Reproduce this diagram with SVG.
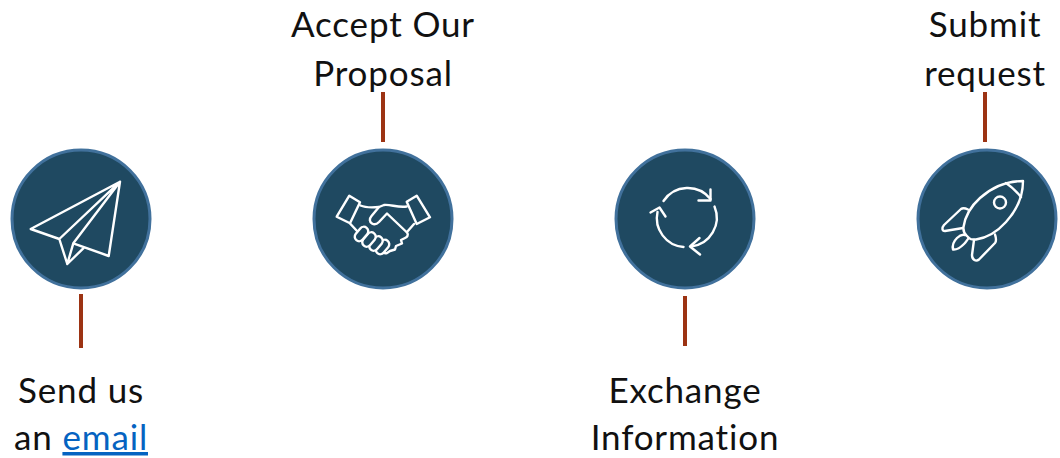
<svg xmlns="http://www.w3.org/2000/svg" width="1060" height="458" viewBox="0 0 1060 458">
<style>
.c{fill:#1f4961;stroke:#41719c;stroke-width:3}
.i{fill:none;stroke:#fff;stroke-width:2.4;stroke-linejoin:round;stroke-linecap:round}
.f{fill:#1f4961}
.t{font-family:"Lato","Open Sans",sans-serif;font-size:35px;letter-spacing:.85px;fill:#111;text-anchor:middle;font-variant-ligatures:none}
.l{fill:#0563c1;text-decoration:underline}
.k{stroke:#9c3313;stroke-width:4;fill:none}
</style>
<rect width="1060" height="458" fill="#fff"/>
<g id="connectors">
<line class="k" x1="81" y1="294" x2="81" y2="348"/>
<line class="k" x1="383" y1="92" x2="383" y2="142"/>
<line class="k" x1="685" y1="296" x2="685" y2="346"/>
<line class="k" x1="985" y1="92" x2="985" y2="142"/>
</g>
<g id="node-email">
<circle class="c" cx="81" cy="219" r="69"/>
<path class="i" d="M120 181.700L30.700 229L59.300 239L67.300 264L83.300 248.300M120 181.700L108.700 256L73.300 243.300L67.300 264M120 181.700L59.300 239M120 181.700L73.300 243.300"/>
<text class="t" x="81" y="403">Send us</text>
<text class="t" x="81" y="450">an <tspan class="l">email</tspan></text>
</g>
<g id="node-proposal">
<circle class="c" cx="383" cy="219" r="69"/>
<g class="i">
<path d="M349.300 195.700L360 202.300L350 223.300L336.700 216.700Z"/>
<path d="M416.700 195.700L406.700 201.700L416.700 224L430 217.300Z"/>
<path d="M360.500 205.500C366 208 374 207.500 379 207L384 205C390 204 398 208 406.700 206.500"/>
<path d="M379 207L371.500 216C369 219 369.500 222 372 223.500C374.500 225 377 224 379 222L387 213.500L407 232.500C409 235 407 237 405 238L401 240L402 243.500L396 246L395 249.500L390 251L387 253C385 253.500 383 253 381 251.500"/>
<path d="M350.500 224L357 231"/>
<path d="M414 224L407 232"/>
<rect class="f" x="-8" y="-4.500" width="16" height="9" rx="4.500" transform="translate(382.500 247) rotate(-50)"/>
<rect class="f" x="-8" y="-4.500" width="16" height="9" rx="4.500" transform="translate(376 243.500) rotate(-50)"/>
<rect class="f" x="-8" y="-4.500" width="16" height="9" rx="4.500" transform="translate(369 239.500) rotate(-50)"/>
<rect class="f" x="-8" y="-4.500" width="16" height="9" rx="4.500" transform="translate(361.500 234) rotate(-50)"/>
</g>
</g>
<g id="node-exchange">
<circle class="c" cx="685" cy="219" r="69"/>
<g class="i">
<path d="M663.500 201A29 29 0 0 1 710.500 199"/>
<path d="M710.500 189.500L710.500 200.500L698.500 200.500"/>
<path d="M714.500 206.500A29 29 0 0 1 691 246.500"/>
<path d="M700 254.500L690 246.500L699.500 238"/>
<path d="M683.500 247A29 29 0 0 1 657.500 212"/>
<path d="M650.500 212.500L659.500 207.500L665.500 216.500"/>
</g>
<text class="t" x="685" y="403">Exchange</text>
<text class="t" x="685" y="450">Information</text>
</g>
<g id="node-request">
<circle class="c" cx="987" cy="219" r="69"/>
<g class="i">
<path d="M1023 181C1007 181 992 187 980 198C970 207 965 217 963.500 227C963 231 964 233 966.500 235.500L969 238C971 240 973 239.500 976 239.500C986 238 997 232 1006 222C1016 211 1023 197 1023 181Z"/>
<path d="M1006 183C1012 187 1017 192 1021 197"/>
<circle cx="1000" cy="202.500" r="6"/>
<path d="M968 209.500C965 208 963 207.500 961 209L944 225C941.500 228 942 231 945 231L963 228"/>
<path d="M965 235C962 234 959 236 957 238C954 241 952 245 953 249.500C957 250 961 247 964 244C966 242 967 240 968.500 238.500"/>
<path d="M974 240L972 255C972 260 976 262 979 259.500L995 243C997 240.500 996 238 995 234.500"/>
</g>
<text class="t" x="985" y="37">Submit</text>
<text class="t" x="985" y="86">request</text>
</g>
<text class="t" x="383" y="37">Accept Our</text>
<text class="t" x="383" y="86">Proposal</text>
</svg>
